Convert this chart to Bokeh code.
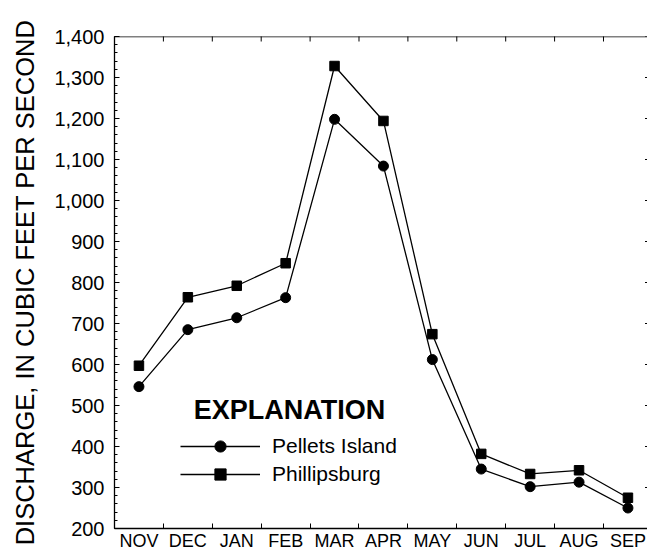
import math
from bokeh.plotting import figure
from bokeh.models import (Range1d, FixedTicker, NumeralTickFormatter, Span,
                          Legend, LegendItem, Label)
from bokeh.embed import file_html
from bokeh.resources import INLINE

months = ["NOV", "DEC", "JAN", "FEB", "MAR", "APR", "MAY", "JUN", "JUL", "AUG", "SEP"]
pellets_island = [546, 685, 714, 763, 1198, 1084, 612, 345, 302, 313, 250]
phillipsburg = [597, 764, 792, 847, 1328, 1194, 674, 382, 333, 342, 275]
y_ticks = list(range(200, 1401, 100))
y_minor = list(range(200, 1401, 20))

FONT = "Liberation Sans"
xs = list(range(len(months)))
bounds = [i - 0.5 for i in range(len(months) + 1)]

p = figure(width=647, height=553, x_range=Range1d(-0.5, 10.4), y_range=Range1d(200, 1400),
           output_backend="svg", toolbar_location=None,
           min_border_left=114, min_border_right=0, min_border_top=36, min_border_bottom=25)
p.outline_line_color = None
p.xgrid.visible = False
p.ygrid.visible = False
p.background_fill_color = "white"
p.border_fill_color = "white"

# left axis
ya = p.yaxis[0]
ya.ticker = FixedTicker(ticks=y_ticks, minor_ticks=y_minor)
ya.formatter = NumeralTickFormatter(format="0,0")
ya.major_tick_in = 5
ya.major_tick_out = 0
ya.minor_tick_in = 3
ya.minor_tick_out = 0
ya.axis_line_width = 1.3
ya.axis_line_color = "black"
ya.major_tick_line_color = "black"
ya.minor_tick_line_color = "black"
ya.major_label_text_font = FONT
ya.major_label_text_font_size = "20px"
ya.major_label_text_color = "black"
ya.major_label_standoff = 10
ya.axis_label = "DISCHARGE, IN CUBIC FEET PER SECOND"
ya.axis_label_text_font = FONT
ya.axis_label_text_font_size = "25.5px"
ya.axis_label_text_font_style = "normal"
ya.axis_label_text_color = "black"
ya.axis_label_standoff = 12

# bottom axis: labels at month centres, ticks at month boundaries
xa = p.xaxis[0]
xa.ticker = FixedTicker(ticks=xs, minor_ticks=bounds)
xa.major_label_overrides = {i: m for i, m in zip(xs, months)}
xa.major_tick_in = 0
xa.major_tick_out = 0
xa.minor_tick_in = 5
xa.minor_tick_out = 0
xa.axis_line_width = 1.3
xa.axis_line_color = "black"
xa.minor_tick_line_color = "black"
xa.major_label_text_font = FONT
xa.major_label_text_font_size = "18px"
xa.major_label_text_color = "black"
xa.major_label_standoff = 2

# top frame line with inward ticks at month boundaries
p.add_layout(Span(location=p.y_range.end, dimension="width", line_color="black", line_width=1.3))
p.scatter(bounds, [p.y_range.end] * len(bounds), marker="dash", angle=math.pi / 2,
          size=10, line_color="black", line_width=1)
# right edge inward ticks
p.scatter([p.x_range.end] * len(y_ticks), y_ticks, marker="dash", size=5,
          line_color="black", line_width=1)

l1 = p.line(xs, pellets_island, line_color="black", line_width=1.3)
m1 = p.scatter(xs, pellets_island, marker="circle", size=10, color="black")
l2 = p.line(xs, phillipsburg, line_color="black", line_width=1.3)
m2 = p.scatter(xs, phillipsburg, marker="square", size=9.5, color="black")

legend = Legend(items=[LegendItem(label="Pellets Island", renderers=[l1, m1]),
                       LegendItem(label="Phillipsburg", renderers=[l2, m2])],
                location=(66, 40),
                label_text_font=FONT, label_text_font_size="21px", label_text_color="black",
                glyph_width=80, glyph_height=28, label_height=28, label_standoff=12,
                spacing=0, padding=0, margin=0,
                border_line_color=None, background_fill_alpha=0)
p.add_layout(legend, "center")

p.add_layout(Label(x=1.12, y=490, text="EXPLANATION", text_font=FONT,
                   text_font_size="27px", text_font_style="bold", text_color="black",
                   text_baseline="middle", text_align="left"))

open("out.html", "w").write(file_html(p, INLINE))
